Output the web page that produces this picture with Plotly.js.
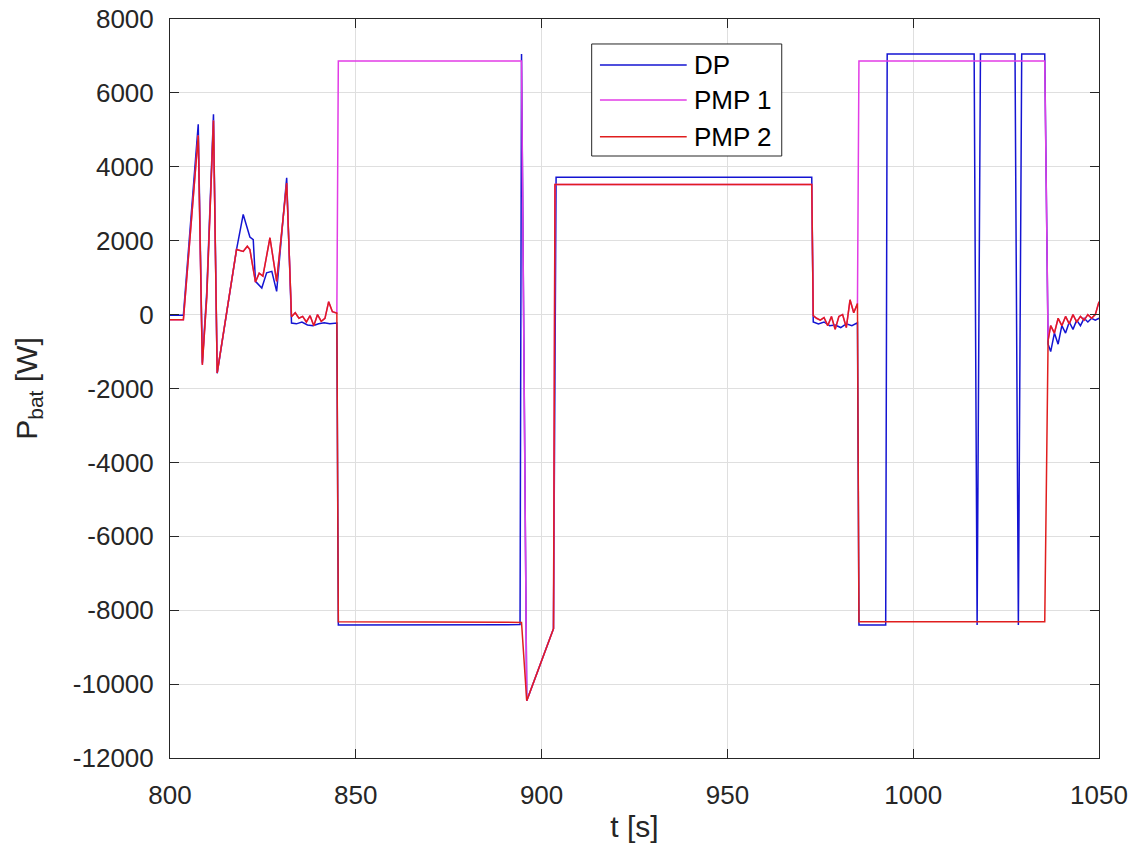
<!DOCTYPE html>
<html>
<head>
<meta charset="utf-8">
<script src="https://cdn.plot.ly/plotly-3.0.1.min.js"></script>
<style>html,body{margin:0;padding:0;background:#fff;}#chart{width:1134px;height:852px;}</style>
</head>
<body>
<div id="chart"></div>
<script>
// ---- data ----
const seriesNames = ['DP', 'PMP 1', 'PMP 2'];

const tDP = [800, 803.6, 807.6, 808.7, 809.9, 811.7, 812.7, 817.9, 819.7, 821.5, 822.4, 823.0, 824.7, 826.0, 827.4, 828.7, 831.4, 832.7,
  834, 835.5, 837, 838.5, 840, 841.5, 843, 844.9, 845.3, 894.2, 894.6, 896.0, 903.2, 903.9, 972.7, 973.1,
  974.5, 976, 977.5, 979, 980.5, 982, 983.5, 985.0, 985.4, 992.6, 993.0, 1016.4, 1017.2, 1018.1, 1027.4, 1028.3, 1029.2,
  1035.4, 1036.3, 1037, 1038, 1039, 1040, 1041, 1042, 1043, 1044, 1045, 1046, 1047, 1048, 1049, 1050];
const pDP = [-20, -20, 5150, -1300, 630, 5420, -1590, 1760, 2710, 2100, 2030, 900, 720, 1130, 1170, 630, 3700, -230,
  -250, -200, -280, -300, -250, -220, -250, -230, -8400, -8390, 7050, -10450, -8500, 3720, 3720, -200,
  -250, -200, -300, -280, -350, -250, -300, -220, -8400, -8400, 7050, 7050, -8400, 7050, 7050, -8400, 7050,
  7050, -800, -1000, -500, -800, -300, -500, -200, -400, -150, -300, -100, -200, -100, -150, -100];

const tPMP1 = [800, 803.6, 807.6, 808.7, 809.9, 811.7, 812.7, 817.9, 819.7, 820.8, 821.5, 823.0, 824.0, 825.0, 826.9, 828.0, 828.7, 831.4,
  832.7, 833.7, 834.7, 835.7, 836.7, 837.7, 838.7, 839.7, 840.7, 841.7, 842.7, 843.7, 844.9, 845.3, 894.6, 896.0, 903.2, 903.6,
  972.7, 973.1, 974, 975, 976, 977, 978, 979, 980, 981, 982, 983, 984, 985.0, 985.4, 1035.4, 1036.3,
  1037, 1038, 1039, 1040, 1041, 1042, 1043, 1044, 1045, 1046, 1047, 1048, 1049, 1050];
const pPMP1 = [-140, -140, 4850, -1360, 480, 5250, -1580, 1760, 1710, 1850, 1760, 880, 1120, 1040, 2080, 1400, 900, 3560,
  -60, 50, -100, -50, -200, -30, -300, 0, -180, -100, 350, 80, 40, 6860, 6860, -10450, -8500, 3520,
  3520, -30, -100, -150, -80, -300, -50, -400, -50, 0, -350, 400, 50, 300, 6860, 6860, -700,
  -300, -500, -100, -300, -50, -250, 0, -200, -50, -150, 0, -100, 0, 350];

const tPMP2 = [800, 803.6, 807.6, 808.7, 809.9, 811.7, 812.7, 817.9, 819.7, 820.8, 821.5, 823.0, 824.0, 825.0, 826.9, 828.0, 828.7, 831.4,
  832.7, 833.7, 834.7, 835.7, 836.7, 837.7, 838.7, 839.7, 840.7, 841.7, 842.7, 843.7, 844.9, 845.3, 894.6, 896.0, 903.2, 903.6,
  972.7, 973.1, 974, 975, 976, 977, 978, 979, 980, 981, 982, 983, 984, 985.0, 985.4, 1035.4, 1036.3,
  1037, 1038, 1039, 1040, 1041, 1042, 1043, 1044, 1045, 1046, 1047, 1048, 1049, 1050];
const pPMP2 = [-140, -140, 4850, -1360, 480, 5250, -1580, 1760, 1710, 1850, 1760, 880, 1120, 1040, 2080, 1400, 900, 3560,
  -60, 50, -100, -50, -200, -30, -300, 0, -180, -100, 350, 80, 40, -8310, -8330, -10450, -8500, 3520,
  3520, -30, -100, -150, -80, -300, -50, -400, -50, 0, -350, 400, 50, 300, -8310, -8310, -700,
  -300, -500, -100, -300, -50, -250, 0, -200, -50, -150, 0, -100, 0, 350];

const xTickVals = [800, 850, 900, 950, 1000, 1050];
const xTickText = ['800', '850', '900', '950', '1000', '1050'];
const yTickVals = [-12000, -10000, -8000, -6000, -4000, -2000, 0, 2000, 4000, 6000, 8000];
const yTickText = ['-12000', '-10000', '-8000', '-6000', '-4000', '-2000', '0', '2000', '4000', '6000', '8000'];

// ---- styling ----
const colors = ['#1414d2', '#e23ce6', '#e01e1e'];
const FONT = 'Liberation Sans, Arial, Helvetica, sans-serif';
const TXT = '#262626';

const traces = [
  {x: tDP, y: pDP, name: seriesNames[0], mode: 'lines', line: {color: colors[0], width: 1.5}},
  {x: tPMP1, y: pPMP1, name: seriesNames[1], mode: 'lines', line: {color: colors[1], width: 1.5}},
  {x: tPMP2, y: pPMP2, name: seriesNames[2], mode: 'lines', line: {color: colors[2], width: 1.5}}
];

// custom MATLAB-style legend (paper coordinates)
const legBox = {x0: 0.4539, x1: 0.6585, y0: 0.8146, y1: 0.9662};
const legRowsY = [0.9378, 0.8904, 0.8407];
const legLineX = [0.4628, 0.5562];
const legTextX = 0.5618;

const shapes = [{type: 'rect', xref: 'paper', yref: 'paper', x0: legBox.x0, x1: legBox.x1, y0: legBox.y0, y1: legBox.y1,
  fillcolor: '#ffffff', line: {color: TXT, width: 1}, layer: 'above'}];
const annotations = [];
seriesNames.forEach((n, i) => {
  shapes.push({type: 'line', xref: 'paper', yref: 'paper', x0: legLineX[0], x1: legLineX[1], y0: legRowsY[i], y1: legRowsY[i],
    line: {color: colors[i], width: 1.5}, layer: 'above'});
  annotations.push({xref: 'paper', yref: 'paper', x: legTextX, y: legRowsY[i], xanchor: 'left', yanchor: 'middle',
    text: n, showarrow: false, font: {family: FONT, size: 26, color: '#000'}});
});

const axisCommon = {
  showline: true, linecolor: TXT, linewidth: 1, mirror: 'ticks',
  ticks: 'inside', ticklen: 9, tickcolor: TXT, tickwidth: 1,
  showgrid: true, gridcolor: '#dfdfdf', gridwidth: 1, zeroline: false,
  tickfont: {family: FONT, size: 26, color: TXT}, tickmode: 'array'
};

const layout = {
  width: 1134, height: 852,
  margin: {l: 170, r: 35, t: 19, b: 94, pad: 0},
  paper_bgcolor: '#ffffff', plot_bgcolor: '#ffffff',
  showlegend: false,
  font: {family: FONT, color: TXT},
  xaxis: Object.assign({}, axisCommon, {
    range: [800, 1050], tickvals: xTickVals, ticktext: xTickText, ticklabelstandoff: 14,
    title: {text: 't [s]', font: {family: FONT, size: 30, color: TXT}, standoff: 6}
  }),
  yaxis: Object.assign({}, axisCommon, {
    range: [-12000, 8000], tickvals: yTickVals, ticktext: yTickText, ticklabelstandoff: 10,
    title: {text: 'P<sub>bat</sub> [W]', font: {family: FONT, size: 30, color: TXT}, standoff: 26}
  }),
  shapes: shapes,
  annotations: annotations
};

Plotly.newPlot('chart', traces, layout, {displayModeBar: false, staticPlot: true});
</script>
</body>
</html>
